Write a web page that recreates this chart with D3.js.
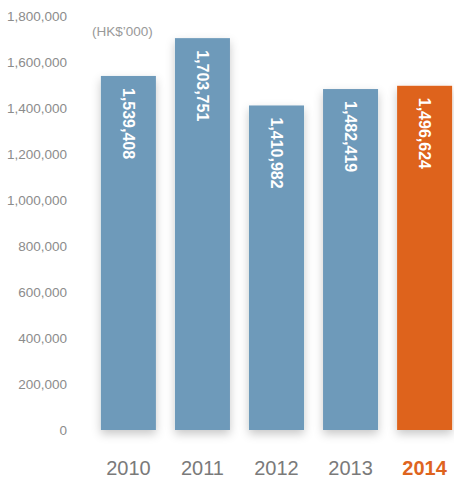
<!DOCTYPE html>
<html>
<head>
<meta charset="utf-8">
<script src="https://d3js.org/d3.v7.min.js"></script>
<style>
  body { margin: 0; background: #fff; }
  svg text { font-family: "Liberation Sans", Arial, sans-serif; }
</style>
</head>
<body>
<div id="chart"></div>
<script>
// data
var years = ["2010", "2011", "2012", "2013", "2014"];
var values = [1539408, 1703751, 1410982, 1482419, 1496624];
var tickValues = [0, 200000, 400000, 600000, 800000, 1000000, 1200000, 1400000, 1600000, 1800000];
var unitLabel = "(HK$\u2019000)";

var width = 454, height = 478;
var svg = d3.select("#chart").append("svg")
    .attr("width", width)
    .attr("height", height);

var defs = svg.append("defs");
var f = defs.append("filter").attr("id", "shadow")
    .attr("x", "-40%").attr("y", "-30%").attr("width", "180%").attr("height", "160%");
f.append("feDropShadow").attr("dx", 0).attr("dy", 4).attr("stdDeviation", 5)
    .attr("flood-color", "#000").attr("flood-opacity", 0.22);

var x = d3.scaleBand().domain(years).range([92, 461]).paddingInner(0.257).paddingOuter(0.12);
var y = d3.scaleLinear().domain([0, 1800000]).range([430, 16]);

// y axis labels
var yAxis = d3.axisLeft(y).tickValues(tickValues).tickSize(0).tickPadding(0)
    .tickFormat(d3.format(","));
var ya = svg.append("g").attr("transform", "translate(67,0)").call(yAxis);
ya.select(".domain").remove();
ya.selectAll("text").attr("fill", "#8c8c8c").style("font-size", "13.5px")
    .style("font-family", "'Liberation Sans', Arial, sans-serif");

svg.append("text").attr("x", 92).attr("y", 36).text(unitLabel)
  .attr("fill", "#999").style("font-size", "13.5px");

// bars
svg.selectAll(".bar").data(values).enter().append("rect")
  .attr("class", "bar")
  .attr("x", function(d, i) { return x(years[i]); })
  .attr("y", function(d) { return y(d); })
  .attr("width", x.bandwidth())
  .attr("height", function(d) { return y(0) - y(d); })
  .attr("fill", function(d, i) { return i === 4 ? "#de641e" : "#6e9aba"; })
  .attr("filter", "url(#shadow)");

// value labels (rotated)
svg.selectAll(".val").data(values).enter().append("text")
  .attr("class", "val")
  .attr("transform", function(d, i) {
    return "translate(" + (x(years[i]) + x.bandwidth() / 2) + "," + (y(d) + 12) + ") rotate(90)";
  })
  .attr("dy", "0.36em")
  .attr("fill", "#fff")
  .style("font-size", "16px")
  .style("font-weight", "bold")
  .text(function(d) { return d3.format(",")(d); });

// x axis labels
var xAxis = d3.axisBottom(x).tickSize(0).tickPadding(0);
var xa = svg.append("g").attr("transform", "translate(0,461)").call(xAxis);
xa.select(".domain").remove();
xa.selectAll("text")
  .attr("dy", "0.71em")
  .style("font-size", "20px")
  .style("font-family", "'Liberation Sans', Arial, sans-serif")
  .attr("fill", function(d) { return d === "2014" ? "#de641e" : "#7a7a7a"; })
  .style("font-weight", function(d) { return d === "2014" ? "bold" : "normal"; });
</script>
</body>
</html>
